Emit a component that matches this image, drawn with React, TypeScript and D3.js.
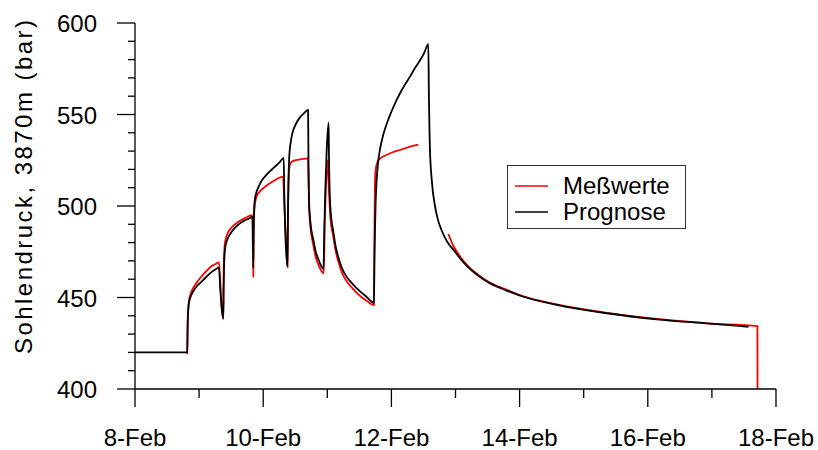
import React from "react";
import * as d3 from "d3";

// Time in days of February (8 = 8-Feb 00:00), pressure in bar
const prognoseDays = [
  8.0, 8.81,
  8.816, 8.82, 8.825, 8.835, 8.85, 8.88, 8.92, 8.96, 9.02, 9.07, 9.12, 9.17, 9.24, 9.31,
  9.33, 9.35, 9.378,
  9.383, 9.388, 9.395, 9.405, 9.42, 9.45, 9.5, 9.55, 9.6, 9.65, 9.7, 9.77, 9.835,
  9.845,
  9.852, 9.858, 9.87, 9.89, 9.93, 9.98, 10.06, 10.13, 10.2, 10.26, 10.32,
  10.33, 10.345, 10.36, 10.378,
  10.385, 10.39, 10.397, 10.405, 10.415, 10.43, 10.45, 10.48, 10.52, 10.57, 10.63, 10.7,
  10.706, 10.715, 10.74, 10.78, 10.82, 10.86, 10.9, 10.94,
  10.955, 10.97, 10.99, 11.02,
  11.025, 11.04, 11.06, 11.09, 11.13, 11.17, 11.23, 11.3, 11.38, 11.46, 11.54, 11.61, 11.728,
  11.735, 11.744, 11.755, 11.77, 11.79, 11.82, 11.87, 11.93, 12.0, 12.08, 12.18, 12.29, 12.37, 12.45, 12.51, 12.576,
  12.585, 12.595, 12.6, 12.63, 12.68, 12.73, 12.78, 12.87, 12.97, 13.08, 13.2, 13.35, 13.54, 13.8, 14.06,
  14.58, 15.36, 16.14, 16.92, 17.57,
];
const prognoseValues = [
  420, 420,
  420, 432, 440, 445, 448.5, 451.4, 454, 456, 458, 459.8, 461.5, 463.2, 465, 466.3,
  455, 445, 438.6,
  455, 466, 472, 476.5, 479.5, 482.5, 485.5, 487.8, 489.5, 490.8, 492, 493, 494,
  466,
  490, 498, 503.5, 507, 510.6, 514, 517.4, 519.8, 522, 524, 526.3,
  505, 485, 474, 467,
  490, 505, 518, 526, 531, 535, 539, 542.5, 545.5, 548.3, 550.5, 552.5,
  525, 503, 490, 482, 475, 471, 467.5, 465.5,
  490, 510, 530, 545.5,
  530, 505, 494, 487, 478, 472.3, 466, 461.4, 458, 455, 452.5, 450.4, 447.2,
  470, 487, 503, 514.2, 523, 530.6, 538.5, 545.2, 551.5, 557.9, 564.5, 570.7, 575.5, 579.8, 583.5, 588.5,
  560, 540, 532.4, 514, 500, 492, 487, 480.5, 476, 471, 466.5, 462, 457.7, 453.8, 450.4,
  446, 441.4, 438.1, 435.9, 434,
];

// Measured values; NaN marks the gap in the record
const messDays = [
  8.815, 8.82, 8.828, 8.84, 8.86, 8.89, 8.93, 8.98, 9.03, 9.08, 9.13, 9.18, 9.25, 9.31,
  9.33, 9.35, 9.375,
  9.38, 9.385, 9.392, 9.4, 9.42, 9.45, 9.5, 9.56, 9.62, 9.68, 9.75, 9.83,
  9.845,
  9.85, 9.855, 9.865, 9.88, 9.9, 9.95, 10.03, 10.12, 10.2, 10.31,
  10.33, 10.36, 10.38,
  10.385, 10.39, 10.398, 10.41, 10.43, 10.48, 10.58, 10.7,
  10.706, 10.715, 10.74, 10.78, 10.82, 10.86, 10.9, 10.945,
  10.96, 10.98, 11.0,
  11.01, 11.03, 11.05, 11.09, 11.13, 11.17, 11.23, 11.3, 11.38, 11.46, 11.54, 11.61, 11.728,
  11.735, 11.742, 11.75, 11.765, 11.79, 11.82, 11.87, 11.93, 12.03, 12.13, 12.27, 12.42,
  12.6,
  12.888, 12.97, 13.08, 13.2, 13.35, 13.54, 13.8, 14.06, 14.58, 15.36, 16.14, 16.92, 17.71, 17.712,
];
const messValues = [
  419, 432, 442, 448, 451, 454, 456.5, 459, 461.2, 463.2, 465, 466.8, 468.2, 469.2,
  458, 446, 438.1,
  455, 468, 475, 479, 482.5, 485.5, 488, 490, 491.5, 492.8, 494, 495,
  461.4,
  480, 492, 499, 503, 505.5, 508, 510.6, 512.8, 514.5, 516,
  500, 478, 466.5,
  490, 505, 516, 521.5, 523.5, 524.8, 525.5, 526,
  515, 500, 487.5, 479, 472, 468, 465, 463.2,
  490, 512, 525,
  520, 505, 493, 484, 475.5, 470, 463.5, 459, 455.5, 452.5, 450, 448.3, 445.9,
  480, 510, 518, 522, 524.5, 525.8, 527, 528, 529.5, 530.6, 532.2, 533.5,
  NaN,
  484.7, 478, 472, 467, 462.5, 458, 454.2, 450.6, 446.2, 441.6, 438.3, 435.9, 434.4, 400,
];

const xTicks = [8, 10, 12, 14, 16, 18];
const xMinorTicks = [9, 11, 13, 15, 17];
const yTicks = [400, 450, 500, 550, 600];
const yMinorTicks = d3.range(410, 600, 10).filter((v) => v % 50 !== 0);

const seriesNames = ["Meßwerte", "Prognose"];
const seriesColors = ["#ff0000", "#000000"];

const W = 818;
const H = 450;
const FONT = "'Liberation Sans', Arial, Helvetica, sans-serif";

export default function App() {
  const x = d3.scaleLinear().domain([8, 18]).range([135, 776]);
  const y = d3.scaleLinear().domain([400, 600]).range([389, 23]);

  const line = d3
    .line<[number, number]>()
    .defined((d) => !Number.isNaN(d[1]))
    .x((d) => x(d[0]))
    .y((d) => y(d[1]))
    .curve(d3.curveMonotoneX);

  const prognose = prognoseDays.map((d, i) => [d, prognoseValues[i]] as [number, number]);
  const mess = messDays.map((d, i) => [d, messValues[i]] as [number, number]);

  const axisColor = "#000";
  const x0 = x(8);
  const y0 = y(400);

  return (
    <svg width={W} height={H} style={{ position: "absolute", left: 0, top: 0, background: "#fff" }}>
      <rect width={W} height={H} fill="#fff" />

      {/* data */}
      <path d={line(mess) ?? ""} fill="none" stroke={seriesColors[0]} strokeWidth={1.8} strokeLinejoin="round" />
      <path d={line(prognose) ?? ""} fill="none" stroke={seriesColors[1]} strokeWidth={1.8} strokeLinejoin="round" />

      {/* y axis */}
      <line x1={x0} x2={x0} y1={y(600)} y2={y0} stroke={axisColor} strokeWidth={1.3} />
      {yTicks.map((t) => (
        <g key={"yt" + t}>
          <line x1={x0 - 18} x2={x0} y1={y(t)} y2={y(t)} stroke={axisColor} strokeWidth={1.3} />
          <text x={97} y={y(t) + 9} textAnchor="end" fontFamily={FONT} fontSize={24} fill="#000">
            {t}
          </text>
        </g>
      ))}
      {yMinorTicks.map((t) => (
        <line key={"ym" + t} x1={x0 - 7} x2={x0} y1={y(t)} y2={y(t)} stroke={axisColor} strokeWidth={1.3} />
      ))}

      {/* x axis */}
      <line x1={x0} x2={x(18)} y1={y0} y2={y0} stroke={axisColor} strokeWidth={1.3} />
      {xTicks.map((t) => (
        <g key={"xt" + t}>
          <line x1={x(t)} x2={x(t)} y1={y0} y2={y0 + 18} stroke={axisColor} strokeWidth={1.3} />
          <text x={x(t)} y={446} textAnchor="middle" fontFamily={FONT} fontSize={24} fill="#000">
            {`${t}-Feb`}
          </text>
        </g>
      ))}
      {xMinorTicks.map((t) => (
        <line key={"xm" + t} x1={x(t)} x2={x(t)} y1={y0} y2={y0 + 9} stroke={axisColor} strokeWidth={1.3} />
      ))}

      {/* y axis title */}
      <text
        transform="translate(32,187) rotate(-90)"
        textAnchor="middle"
        fontFamily={FONT}
        fontSize={24}
        fill="#000"
        textLength={334}
        lengthAdjust="spacing"
      >
        Sohlendruck, 3870m (bar)
      </text>

      {/* legend */}
      <rect x={507.5} y={165.5} width={178} height={63} fill="#fff" stroke="#333" strokeWidth={1} />
      {seriesNames.map((name, i) => (
        <g key={name}>
          <line x1={515} x2={548} y1={186 + i * 26} y2={186 + i * 26} stroke={seriesColors[i]} strokeWidth={1.6} />
          <text x={563} y={194 + i * 26} fontFamily={FONT} fontSize={24} fill="#000">
            {name}
          </text>
        </g>
      ))}
    </svg>
  );
}
